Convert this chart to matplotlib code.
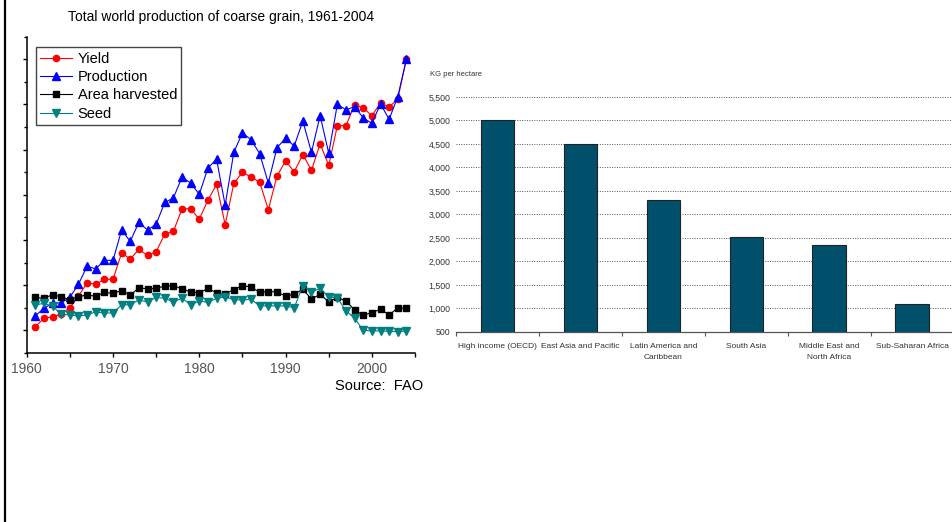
import numpy as np
import matplotlib
matplotlib.use('Agg')
import matplotlib.pyplot as plt
from matplotlib.lines import Line2D
from matplotlib.ticker import MultipleLocator

plt.rcParams['font.family'] = ['Liberation Sans', 'DejaVu Sans']

years = list(range(1961, 2005))

# index values, plotted on an unlabelled axis
yieldIdx = [1.08, 1.27, 1.30, 1.36, 1.50, 1.76, 2.05, 2.02, 2.13, 2.13,
            2.71, 2.58, 2.79, 2.66, 2.74, 3.13, 3.19, 3.69, 3.69, 3.46,
            3.88, 4.23, 3.34, 4.25, 4.50, 4.39, 4.28, 3.67, 4.41, 4.75,
            4.51, 4.89, 4.54, 5.13, 4.65, 5.53, 5.53, 5.99, 5.92, 5.75,
            6.03, 5.94, 6.12, 7.00]
productionIdx = [1.32, 1.49, 1.60, 1.61, 1.73, 2.02, 2.42, 2.36, 2.55, 2.55,
                 3.22, 2.97, 3.39, 3.22, 3.35, 3.83, 3.93, 4.39, 4.26, 4.01,
                 4.59, 4.79, 3.77, 4.94, 5.37, 5.22, 4.91, 4.26, 5.04, 5.25,
                 5.08, 5.63, 4.94, 5.75, 4.92, 6.00, 5.88, 5.95, 5.70, 5.58,
                 6.01, 5.67, 6.17, 7.00]
areaIdx = [1.73, 1.71, 1.79, 1.74, 1.68, 1.74, 1.79, 1.75, 1.84, 1.82,
           1.88, 1.78, 1.94, 1.92, 1.93, 1.98, 1.99, 1.92, 1.85, 1.83,
           1.93, 1.83, 1.81, 1.90, 1.99, 1.96, 1.84, 1.86, 1.85, 1.76,
           1.80, 1.91, 1.69, 1.80, 1.63, 1.73, 1.65, 1.45, 1.34, 1.39,
           1.47, 1.34, 1.50, 1.49]
seedIdx = [1.56, 1.60, 1.53, 1.36, 1.34, 1.32, 1.34, 1.41, 1.38, 1.39,
           1.56, 1.57, 1.67, 1.63, 1.73, 1.71, 1.63, 1.71, 1.57, 1.65,
           1.62, 1.71, 1.74, 1.68, 1.67, 1.69, 1.54, 1.54, 1.54, 1.54,
           1.50, 1.99, 1.85, 1.93, 1.74, 1.72, 1.43, 1.27, 1.00, 0.99,
           0.99, 0.98, 0.97, 0.99]

regions = ['High income (OECD)', 'East Asia and Pacific', 'Latin America and\nCaribbean',
           'South Asia', 'Middle East and\nNorth Africa', 'Sub-Saharan Africa']
kgPerHectare = [5000, 4500, 3300, 2530, 2360, 1100]


def graphOne(fig):
    ax = fig.add_axes([0.028, 0.3238, 0.4075, 0.6061])
    series = [
        (yieldIdx, 'Yield', '#ff0000', 'o', 4.5),
        (productionIdx, 'Production', '#0000ff', '^', 5.4),
        (areaIdx, 'Area harvested', '#000000', 's', 4.4),
        (seedIdx, 'Seed', '#008080', 'v', 5.4),
    ]
    for vals, label, color, marker, ms in series:
        ax.plot(years, vals, color=color, lw=0.8, marker=marker, ms=ms,
                mec=color, mfc=color, label=label)
    ax.set_xlim(1960, 2005)
    ax.set_ylim(0.5, 7.5)
    ax.xaxis.set_major_locator(MultipleLocator(10))
    ax.xaxis.set_minor_locator(MultipleLocator(5))
    ax.yaxis.set_major_locator(MultipleLocator(1))
    ax.yaxis.set_minor_locator(MultipleLocator(0.5))
    ax.set_yticklabels([])
    ax.tick_params(which='major', length=3, width=1, labelsize=10, labelcolor='#555555')
    ax.tick_params(which='minor', length=2, width=1)
    ax.tick_params(axis='x', which='minor', length=3)
    for side in ['top', 'right']:
        ax.spines[side].set_visible(False)
    for side in ['left', 'bottom']:
        ax.spines[side].set_linewidth(1.1)
    leg = ax.legend(loc='upper left', bbox_to_anchor=(0.024, 0.966), borderaxespad=0,
                    fontsize=10.5, handlelength=2.2, handletextpad=0.35, borderpad=0.3,
                    labelspacing=0.3, fancybox=False, framealpha=1)
    leg.get_frame().set_edgecolor('#444444')
    leg.get_frame().set_linewidth(1.0)
    fig.text(221 / 953, 1 - 17 / 522, 'Total world production of coarse grain, 1961-2004',
             ha='center', va='center', fontsize=10)
    fig.text(423 / 953, 1 - 386 / 522, 'Source:  FAO', ha='right', va='center', fontsize=10.5)


def graphTwo(fig):
    ax = fig.add_axes([456 / 953, 0.364, 0.5222, 0.4502])
    x = np.arange(len(regions))
    ax.bar(x, kgPerHectare, width=0.405, color='#004f6b', edgecolor='#222222',
           linewidth=0.8, zorder=3)
    ax.set_xlim(-0.5, 5.5)
    ax.set_ylim(500, 5500)
    ax.set_yticks(range(500, 5501, 500))
    ax.set_yticklabels([f'{v:,}' for v in range(500, 5501, 500)])
    ax.yaxis.grid(True, color='#555555', linestyle=(0, (1, 1.5)), linewidth=0.7, zorder=0)
    ax.set_xticks(np.arange(-0.5, 5.6, 1))
    ax.set_xticklabels([])
    ax.set_xticks(x, minor=True)
    ax.set_xticklabels(regions, minor=True, fontsize=6, color='#333333', linespacing=1.75)
    ax.tick_params(axis='x', which='major', length=3, color='#555555')
    ax.tick_params(axis='x', which='minor', length=0, pad=8)
    ax.tick_params(axis='y', length=0, labelsize=6.3, labelcolor='#333333', pad=4)
    for side in ['top', 'right', 'left']:
        ax.spines[side].set_visible(False)
    ax.spines['bottom'].set_color('#555555')
    ax.spines['bottom'].set_linewidth(0.9)
    fig.text(430 / 953, 1 - 74 / 522, 'KG per hectare', fontsize=5.5, color='#333333',
             ha='left', va='center')


def run():
    fig = plt.figure(figsize=(9.53, 5.22), dpi=100)
    graphOne(fig)
    graphTwo(fig)
    fig.add_artist(Line2D([5.5 / 953, 5.5 / 953], [0, 1], color='black', lw=1.6))
    fig.savefig('out.png', dpi=100)


if __name__ == '__main__':
    run()
